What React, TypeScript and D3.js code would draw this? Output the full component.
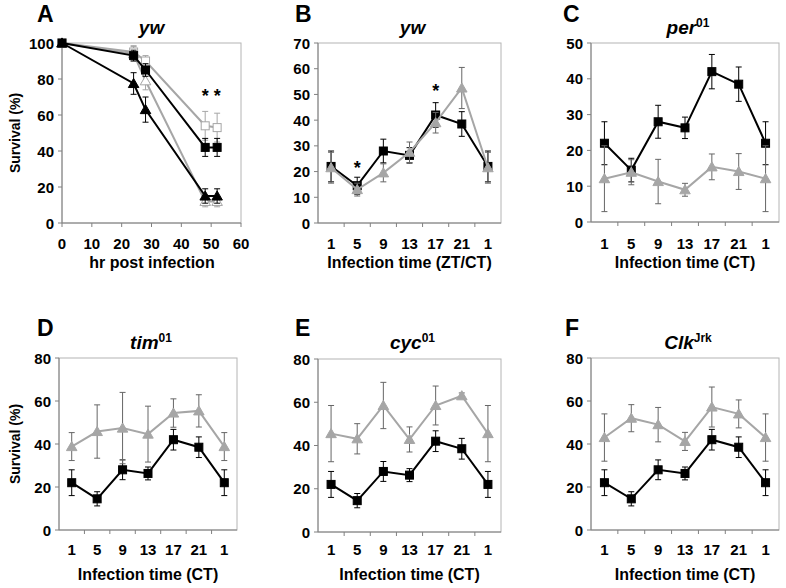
import React from 'react';
import * as d3 from 'd3';

// ---- data ----
// panel A: survival over time after infection
const HOURS = [0, 24, 28, 48, 52];
const A_HOUR_TICKS = [0, 10, 20, 30, 40, 50, 60];
const A_BLACK_SQ = [100, 93, 85, 42, 42];
const A_BLACK_SQ_ERR = [0, 3, 3.5, 5, 5];
const A_BLACK_TRI = [100, 77.5, 63, 15, 15];
const A_BLACK_TRI_ERR = [0, 6, 7, 4, 4];
const A_GRAY_SQ = [100, 95, 90, 54, 53];
const A_GRAY_SQ_ERR = [0, 3.5, 3, 8, 8];
const A_GRAY_TRI = [100, 94, 79, 12, 12];
const A_GRAY_TRI_ERR = [0, 4, 5, 3, 3];
const A_STARS = [48, 52];
const A_STAR_LEVEL = 73;

// panels B-F: infection time of day
const CT_LABELS = ['1', '5', '9', '13', '17', '21', '1'];
const CTRL = [22, 14.5, 28, 26.3, 42, 38.5, 22];
const CTRL_ERR = [6, 3.3, 4.6, 3, 4.8, 4.8, 6];
const YW_GRAY = [21.5, 13, 19.5, 27.5, 39, 52.5, 21.5];
const YW_GRAY_ERR = [6, 2.5, 3.5, 4, 4, 8, 6];
const B_STARS = [1, 4];
const B_STAR_LEVEL = [23, 53];
const PER_GRAY = [12.1, 13.9, 11.3, 9, 15.4, 14.1, 12.1];
const PER_GRAY_ERR = [9.2, 3.5, 6.2, 1.8, 3.6, 5, 9.2];
const TIM_GRAY = [38.8, 45.8, 47.4, 44.6, 54.4, 55.4, 38.8];
const TIM_GRAY_ERR = [6.5, 12.4, 16.6, 13, 6.6, 7.5, 6.5];
const CYC_GRAY = [45.5, 43.1, 58.5, 42.8, 58.5, 63, 45.5];
const CYC_GRAY_ERR = [13, 7, 10.7, 5.8, 9, 1.3, 13];
const CLK_GRAY = [43, 52, 49, 41.2, 57.2, 54, 43];
const CLK_GRAY_ERR = [11, 6.3, 8, 4.2, 9.3, 6.5, 11];

const FONT = '"Liberation Sans", Arial, Helvetica, sans-serif';
const BLACK = '#000';
const GRAY = '#a6a6a6';
const GRAY_ERR = '#666';
const BOX = '#b4b4b4';
const AXIS = '#808080';

type Frame = { left: number; right: number; top: number; bottom: number };

function Marker({ shape, x, y, fill, stroke }: { shape: string; x: number; y: number; fill: string; stroke: string }) {
  if (shape === 'square') {
    return <rect x={x - 4} y={y - 4} width={8} height={8} fill={fill} stroke={stroke} strokeWidth={1} />;
  }
  const sym = d3.symbol(d3.symbolTriangle, 48)();
  return <path d={sym || ''} transform={`translate(${x},${y + 1})`} fill={fill} stroke={stroke} strokeWidth={1} />;
}

function Series({ xs, ys, errs, color, errColor, shape, fill }: any) {
  const pts = xs.map((x: number, i: number) => [x, ys[i]] as [number, number]);
  const line = d3.line()(pts) || '';
  return (
    <g>
      {xs.map((x: number, i: number) => {
        const e = errs[i];
        if (!e) return null;
        const y1 = ys[i] - e.dy1;
        const y2 = ys[i] + e.dy2;
        return (
          <g key={i} stroke={errColor} strokeWidth={1}>
            <line x1={x} x2={x} y1={y1} y2={y2} />
            <line x1={x - 3} x2={x + 3} y1={y1} y2={y1} />
            <line x1={x - 3} x2={x + 3} y1={y2} y2={y2} />
          </g>
        );
      })}
      <path d={line} fill="none" stroke={color} strokeWidth={2} />
      {xs.map((x: number, i: number) => (
        <Marker key={i} shape={shape} x={x} y={ys[i]} fill={fill} stroke={color} />
      ))}
    </g>
  );
}

function YAxis({ f, y, ticks }: { f: Frame; y: any; ticks: number[] }) {
  return (
    <g>
      {ticks.map((t) => (
        <g key={t}>
          <line x1={f.left - 4} x2={f.left} y1={y(t)} y2={y(t)} stroke={AXIS} />
          <text x={f.left - 8} y={y(t) + 5.5} textAnchor="end" fontSize={15} fontWeight="bold" fontFamily={FONT}>
            {t}
          </text>
        </g>
      ))}
    </g>
  );
}

function Box({ f }: { f: Frame }) {
  return (
    <g>
      <rect x={f.left} y={f.top} width={f.right - f.left} height={f.bottom - f.top} fill="none" stroke={BOX} strokeWidth={1} />
      <line x1={f.left} x2={f.left} y1={f.top} y2={f.bottom} stroke={AXIS} />
      <line x1={f.left} x2={f.right} y1={f.bottom} y2={f.bottom} stroke={AXIS} />
    </g>
  );
}

function Title({ x, y, main, sup }: { x: number; y: number; main: string; sup?: string }) {
  return (
    <text x={x} y={y} textAnchor="middle" fontSize={19} fontWeight="bold" fontFamily={FONT}>
      <tspan fontStyle="italic">{main}</tspan>
      {sup && (
        <tspan dy={-7} fontSize={12}>
          {sup}
        </tspan>
      )}
    </text>
  );
}

function PanelA() {
  const f: Frame = { left: 62, right: 241, top: 43, bottom: 223 };
  const x = d3.scaleLinear().domain([0, 60]).range([f.left, f.right]);
  const y = d3.scaleLinear().domain([0, 100]).range([f.bottom, f.top]);
  const xs = HOURS.map((h) => x(h));
  const mk = (vals: number[], errs: number[]) => ({
    ys: vals.map((v) => y(v)),
    errs: errs.map((e, i) => (e ? { dy1: y(vals[i]) - y(vals[i] + e), dy2: y(vals[i] - e) - y(vals[i]) } : null)),
  });
  const gs = mk(A_GRAY_SQ, A_GRAY_SQ_ERR);
  const gt = mk(A_GRAY_TRI, A_GRAY_TRI_ERR);
  const bs = mk(A_BLACK_SQ, A_BLACK_SQ_ERR);
  const bt = mk(A_BLACK_TRI, A_BLACK_TRI_ERR);
  return (
    <g>
      <Box f={f} />
      <YAxis f={f} y={y} ticks={[0, 20, 40, 60, 80, 100]} />
      {A_HOUR_TICKS.map((t) => (
        <g key={t}>
          <line x1={x(t)} x2={x(t)} y1={f.bottom} y2={f.bottom + 4} stroke={AXIS} />
          <text x={x(t)} y={249} textAnchor="middle" fontSize={15} fontWeight="bold" fontFamily={FONT}>
            {t}
          </text>
        </g>
      ))}
      <Series xs={xs} ys={gt.ys} errs={gt.errs} color={GRAY} errColor={GRAY} shape="tri" fill="#fff" />
      <Series xs={xs} ys={gs.ys} errs={gs.errs} color={GRAY} errColor={GRAY} shape="square" fill="#fff" />
      <Series xs={xs} ys={bt.ys} errs={bt.errs} color={BLACK} errColor={BLACK} shape="tri" fill={BLACK} />
      <Series xs={xs} ys={bs.ys} errs={bs.errs} color={BLACK} errColor={BLACK} shape="square" fill={BLACK} />
      {A_STARS.map((h) => (
        <text key={h} x={x(h)} y={y(A_STAR_LEVEL) + 10} textAnchor="middle" fontSize={18} fontWeight="bold" fontFamily={FONT}>
          *
        </text>
      ))}
      <Title x={(f.left + f.right) / 2} y={34} main="yw" />
      <text x={152} y={268} textAnchor="middle" fontSize={16} fontWeight="bold" fontFamily={FONT}>
        hr post infection
      </text>
      <text transform="translate(20,133) rotate(-90)" textAnchor="middle" fontSize={14} fontWeight="bold" fontFamily={FONT}>
        Survival (%)
      </text>
      <text x={37} y={22} fontSize={23} fontWeight="bold" fontFamily={FONT}>
        A
      </text>
    </g>
  );
}

function CtPanel({ f, yMax, yStep, gray, grayErr, title, sup, letter, letterX, xLabel, yLabel, stars, starLevels }: any) {
  const band = d3.scaleBand<number>().domain(d3.range(CT_LABELS.length)).range([f.left, f.right]).padding(0);
  const cx = (i: number) => (band(i) as number) + band.bandwidth() / 2;
  const y = d3.scaleLinear().domain([0, yMax]).range([f.bottom, f.top]);
  const ticks = d3.range(0, yMax + 0.001, yStep);
  const xs = CT_LABELS.map((_, i) => cx(i));
  const mk = (vals: number[], errs: number[]) => ({
    ys: vals.map((v) => y(v)),
    errs: errs.map((e, i) => ({ dy1: y(vals[i]) - y(vals[i] + e), dy2: y(vals[i] - e) - y(vals[i]) })),
  });
  const g = mk(gray, grayErr);
  const b = mk(CTRL, CTRL_ERR);
  const isTop = f.top < 100;
  const tickY = isTop ? 249 : 555;
  const labelY = isTop ? 268 : 580;
  const mid = (f.left + f.right) / 2;
  return (
    <g>
      <Box f={f} />
      <YAxis f={f} y={y} ticks={ticks} />
      {d3.range(1, CT_LABELS.length).map((i) => (
        <line key={i} x1={band(i)} x2={band(i)} y1={f.bottom} y2={f.bottom + 4} stroke={AXIS} />
      ))}
      {CT_LABELS.map((l, i) => (
        <text key={i} x={cx(i)} y={tickY} textAnchor="middle" fontSize={15} fontWeight="bold" fontFamily={FONT}>
          {l}
        </text>
      ))}
      <Series xs={xs} ys={b.ys} errs={b.errs} color={BLACK} errColor={BLACK} shape="square" fill={BLACK} />
      <Series xs={xs} ys={g.ys} errs={g.errs} color={GRAY} errColor={GRAY_ERR} shape="tri" fill={GRAY} />
      {(stars || []).map((i: number, k: number) => (
        <text key={i} x={cx(i)} y={y(starLevels[k]) + 10} textAnchor="middle" fontSize={18} fontWeight="bold" fontFamily={FONT}>
          *
        </text>
      ))}
      <Title x={mid + 3} y={isTop ? 34 : 349} main={title} sup={sup} />
      <text x={mid} y={labelY} textAnchor="middle" fontSize={16} fontWeight="bold" fontFamily={FONT}>
        {xLabel}
      </text>
      {yLabel && (
        <text transform={`translate(20,${(f.top + f.bottom) / 2}) rotate(-90)`} textAnchor="middle" fontSize={14} fontWeight="bold" fontFamily={FONT}>
          Survival (%)
        </text>
      )}
      <text x={letterX} y={isTop ? 22 : 336} fontSize={23} fontWeight="bold" fontFamily={FONT}>
        {letter}
      </text>
    </g>
  );
}

export default function App() {
  return (
    <svg width={786} height={588} style={{ position: 'absolute', left: 0, top: 0, background: '#fff' }}>
      <rect width={786} height={588} fill="#fff" />
      <PanelA />
      <CtPanel f={{ left: 318, right: 501, top: 43, bottom: 223 }} yMax={70} yStep={10} gray={YW_GRAY} grayErr={YW_GRAY_ERR}
        title="yw" letter="B" letterX={295} xLabel="Infection time (ZT/CT)" stars={B_STARS} starLevels={B_STAR_LEVEL} />
      <CtPanel f={{ left: 591, right: 779, top: 43, bottom: 222 }} yMax={50} yStep={10} gray={PER_GRAY} grayErr={PER_GRAY_ERR}
        title="per" sup="01" letter="C" letterX={563} xLabel="Infection time (CT)" />
      <CtPanel f={{ left: 59, right: 237, top: 358, bottom: 530 }} yMax={80} yStep={20} gray={TIM_GRAY} grayErr={TIM_GRAY_ERR}
        title="tim" sup="01" letter="D" letterX={37} xLabel="Infection time (CT)" yLabel />
      <CtPanel f={{ left: 318, right: 501, top: 359, bottom: 532 }} yMax={80} yStep={20} gray={CYC_GRAY} grayErr={CYC_GRAY_ERR}
        title="cyc" sup="01" letter="E" letterX={295} xLabel="Infection time (CT)" />
      <CtPanel f={{ left: 591, right: 779, top: 358, bottom: 530 }} yMax={80} yStep={20} gray={CLK_GRAY} grayErr={CLK_GRAY_ERR}
        title="Clk" sup="Jrk" letter="F" letterX={565} xLabel="Infection time (CT)" />
    </svg>
  );
}
